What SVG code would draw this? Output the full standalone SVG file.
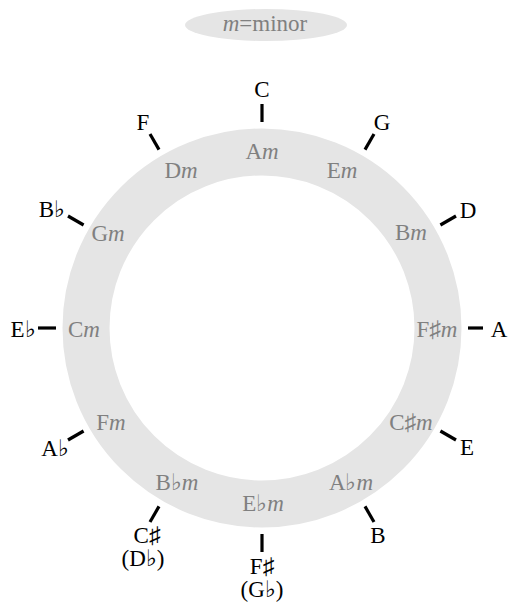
<svg xmlns="http://www.w3.org/2000/svg" width="509" height="603" viewBox="0 0 509 603">
<style>
.maj{font-size:23px;fill:#000;text-anchor:middle}
.min{font-size:23px;fill:#808080;text-anchor:middle}
.tick{stroke:#000;stroke-width:3.2;fill:none}
</style>
<rect width="509" height="603" fill="#fff"/>
<g id="legend" font-family="Liberation Serif">
<ellipse cx="266" cy="25" rx="81" ry="16" fill="#e5e5e5"/>
<text x="265" y="31" class="min" font-size="20"><tspan font-style="italic">m</tspan>=minor</text>
</g>
<g id="ring">
<circle cx="262" cy="328" r="176" fill="none" stroke="#e5e5e5" stroke-width="47"/>
</g>
<g id="connectors">
<line class="tick" x1="262" y1="122" x2="262" y2="104"/>
<line class="tick" x1="365" y1="149.6" x2="374" y2="134"/>
<line class="tick" x1="440.4" y1="225" x2="456" y2="216"/>
<line class="tick" x1="468" y1="328" x2="483" y2="328"/>
<line class="tick" x1="440.4" y1="431" x2="456" y2="440"/>
<line class="tick" x1="365" y1="506.4" x2="374" y2="522"/>
<line class="tick" x1="262" y1="534" x2="262" y2="552"/>
<line class="tick" x1="159" y1="506.4" x2="150" y2="522"/>
<line class="tick" x1="83.6" y1="431" x2="68" y2="440"/>
<line class="tick" x1="56" y1="328" x2="38" y2="328"/>
<line class="tick" x1="83.6" y1="225" x2="68" y2="216"/>
<line class="tick" x1="159" y1="149.6" x2="150" y2="134"/>
</g>
<g id="major" font-family="Liberation Serif">
<g id="C"><text class="maj" x="262" y="97">C</text></g>
<g id="G"><text class="maj" x="382" y="130">G</text></g>
<g id="D"><text class="maj" x="468" y="218">D</text></g>
<g id="A"><text class="maj" x="499" y="337">A</text></g>
<g id="E"><text class="maj" x="467" y="455">E</text></g>
<g id="B"><text class="maj" x="378" y="543">B</text></g>
<g id="Fsharp"><text class="maj" x="262" y="574">F♯</text><text class="maj" x="262" y="597">(G♭)</text></g>
<g id="Csharp"><text class="maj" x="147" y="543">C♯</text><text class="maj" x="143" y="566">(D♭)</text></g>
<g id="Aflat"><text class="maj" x="55" y="456">A♭</text></g>
<g id="Eflat"><text class="maj" x="23" y="337">E♭</text></g>
<g id="Bflat"><text class="maj" x="52" y="217">B♭</text></g>
<g id="F"><text class="maj" x="143" y="130">F</text></g>
</g>
<g id="minor" font-family="Liberation Serif">
<g id="Am"><text class="min" x="262" y="159">A<tspan font-style="italic">m</tspan></text></g>
<g id="Em"><text class="min" x="342" y="178">E<tspan font-style="italic">m</tspan></text></g>
<g id="Bm"><text class="min" x="411" y="240">B<tspan font-style="italic">m</tspan></text></g>
<g id="Fsm"><text class="min" x="437" y="337">F♯<tspan font-style="italic">m</tspan></text></g>
<g id="Csm"><text class="min" x="411" y="430">C♯<tspan font-style="italic">m</tspan></text></g>
<g id="Abm"><text class="min" x="351" y="490">A♭<tspan font-style="italic">m</tspan></text></g>
<g id="Ebm"><text class="min" x="263" y="511">E♭<tspan font-style="italic">m</tspan></text></g>
<g id="Bbm"><text class="min" x="177" y="490">B♭<tspan font-style="italic">m</tspan></text></g>
<g id="Fm"><text class="min" x="111" y="430">F<tspan font-style="italic">m</tspan></text></g>
<g id="Cm"><text class="min" x="84" y="337">C<tspan font-style="italic">m</tspan></text></g>
<g id="Gm"><text class="min" x="108" y="241">G<tspan font-style="italic">m</tspan></text></g>
<g id="Dm"><text class="min" x="181" y="178">D<tspan font-style="italic">m</tspan></text></g>
</g>
</svg>
